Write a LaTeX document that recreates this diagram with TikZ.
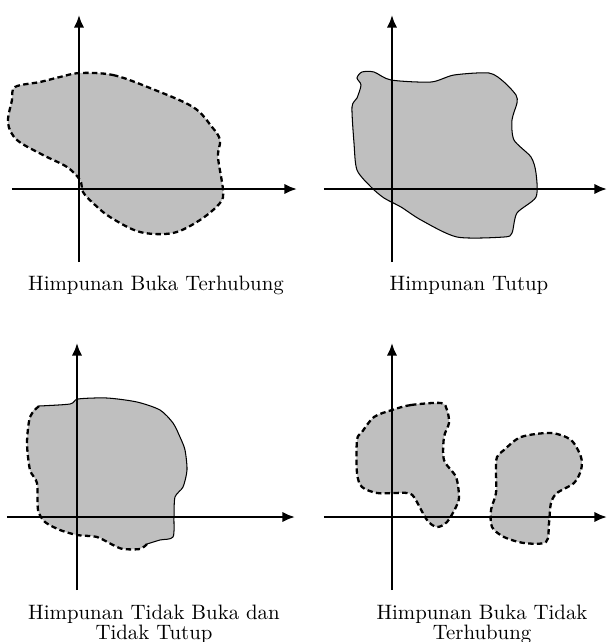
\documentclass[tikz,border=0pt]{standalone}
\usetikzlibrary{arrows.meta}
\begin{document}
\begin{tikzpicture}[x=0.48pt,y=-0.48pt,
  axis/.style={line width=1.35pt,-{Latex[length=6pt,width=5pt]}},
  region/.style={fill=black!25,draw=none},
  openedge/.style={line width=1.1pt,dash pattern=on 2.6pt off 1.6pt},
  closededge/.style={line width=0.5pt},
  lbl/.style={anchor=base,inner sep=0pt,font=\normalsize}]
\useasboundingbox (0,0) rectangle (608,642);

% ---------- Panel 1: Himpunan Buka Terhubung ----------
\path[region,openedge,draw=black] plot[smooth cycle,tension=0.55] coordinates{
 (80,73) (113,75) (150,88) (193,107) (212,127) (220,140) (218,157) (223,190)
 (220,203) (200,220) (173,233) (140,232) (110,217) (93,203) (83,192) (80,180)
 (67,167) (43,155) (17,140) (8,123) (12,100) (15,87) (40,82) (60,77)};
\coordinate (x1s) at (12,189); \coordinate (x1e) at (297,189);
\coordinate (y1s) at (79,262); \coordinate (y1e) at (79,15);
\draw[axis] (x1s) -- (x1e);
\draw[axis] (y1s) -- (y1e);
\node[lbl] (lab1) at (156,290) {Himpunan Buka Terhubung};

% ---------- Panel 2: Himpunan Tutup ----------
\path[region,closededge,draw=black] plot[smooth cycle,tension=0.45] coordinates{
 (362,72) (374,72) (391,80) (431,82) (454,75) (489,73) (504,82) (516,95)
 (517,103) (512,120) (514,140) (531,157) (536,173) (536,197) (517,213)
 (512,233) (504,237) (457,237) (421,220) (401,207) (384,198) (371,187)
 (357,170) (354,143) (352,107) (357,98) (361,85) (357,78)};
\coordinate (x2s) at (324,189); \coordinate (x2e) at (607,189);
\coordinate (y2s) at (392,262); \coordinate (y2e) at (392,15);
\draw[axis] (x2s) -- (x2e);
\draw[axis] (y2s) -- (y2e);
\node[lbl] (lab2) at (469,290) {Himpunan Tutup};

% ---------- Panel 3: Himpunan Tidak Buka dan Tidak Tutup ----------
\path[region] plot[smooth cycle,tension=0.45] coordinates{
 (39,406) (70,404) (78,399) (107,398) (137,402) (160,410) (173,423) (180,437)
 (185,450) (187,470) (183,487) (175,497) (174,517) (173,537) (160,540)
 (147,544) (140,549) (123,549) (113,545) (97,537) (77,535) (60,530) (45,522)
 (38,510) (37,483) (30,470) (27,443) (30,417)};
\draw[closededge] plot[smooth,tension=0.45] coordinates{
 (39,406) (70,404) (78,399) (107,398) (137,402) (160,410) (173,423) (180,437)
 (185,450) (187,470) (183,487) (175,497) (174,517) (173,537) (160,540) (147,544)};
\draw[openedge] plot[smooth,tension=0.45] coordinates{
 (147,544) (140,549) (123,549) (113,545) (97,537) (77,535) (60,530) (45,522)
 (38,510) (37,483) (30,470) (27,443) (30,417) (39,406)};
\coordinate (x3s) at (7,517); \coordinate (x3e) at (295,517);
\coordinate (y3s) at (77,590); \coordinate (y3e) at (77,343);
\draw[axis] (x3s) -- (x3e);
\draw[axis] (y3s) -- (y3e);
\node[lbl] (lab3a) at (154,619) {Himpunan Tidak Buka dan};
\node[lbl] (lab3b) at (154,639) {Tidak Tutup};

% ---------- Panel 4: Himpunan Buka Tidak Terhubung ----------
\path[region,openedge,draw=black] plot[smooth cycle,tension=0.5] coordinates{
 (392,410) (411,405) (441,403) (447,410) (449,423) (444,437) (444,460)
 (456,477) (459,497) (456,507) (447,522) (437,527) (427,520) (414,497)
 (407,493) (394,493) (377,493) (362,487) (357,473) (357,440) (362,432) (374,417)};
\path[region,openedge,draw=black] plot[smooth cycle,tension=0.5] coordinates{
 (504,450) (521,437) (551,433) (571,440) (581,457) (581,470) (574,483)
 (557,493) (551,503) (549,523) (546,542) (524,543) (504,537) (492,527)
 (491,510) (496,493) (496,470) (497,457)};
\coordinate (x4s) at (324,517); \coordinate (x4e) at (607,517);
\coordinate (y4s) at (392,590); \coordinate (y4e) at (392,343);
\draw[axis] (x4s) -- (x4e);
\draw[axis] (y4s) -- (y4e);
\node[lbl] (lab4a) at (482,619) {Himpunan Buka Tidak};
\node[lbl] (lab4b) at (482,639) {Terhubung};
\end{tikzpicture}
\end{document}
